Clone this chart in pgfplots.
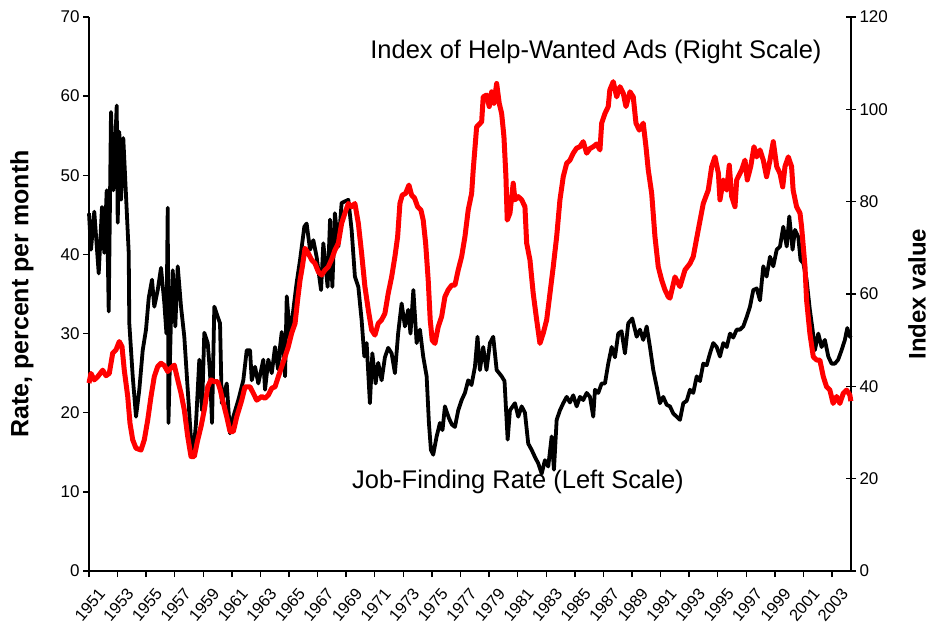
\documentclass[border=0pt]{standalone}
\usepackage{pgfplots}
\pgfplotsset{compat=1.18}
\usepackage{fontspec}
\setmainfont{Liberation Sans}
\begin{document}
\begin{tikzpicture}
\useasboundingbox (-89pt,-53pt) rectangle (840pt,571pt);
\begin{axis}[
  at={(0,0)}, anchor=south west,
  width=762pt, height=554pt, scale only axis,
  xmin=1951, xmax=2004.33, ymin=0, ymax=70,
  axis x line*=bottom, axis y line*=left,
  axis line style={line width=1.8pt, -},
  xtick={1951,1953,...,2003},
  ytick={0,10,...,70},
  tick align=outside,
  major tick length=6pt,
  tick style={line width=1.4pt, black},
  /pgf/number format/assume math mode=true,
  /pgf/number format/1000 sep={},
  yticklabel style={font=\fontsize{17}{17}\selectfont},
  xticklabel style={xshift=8pt, yshift=-8pt, rotate=50, anchor=north east, inner sep=1pt, font=\fontsize{16.5}{16.5}\selectfont},
  ylabel={Rate, percent per month},
  every axis y label/.style={at={([xshift=-67pt]axis description cs:0,0.5)}, rotate=90, anchor=center, font=\fontsize{25}{25}\selectfont\bfseries},
  clip=false,
]
\addplot[black, line width=3.8pt, line join=round] coordinates {
(1951.00,45.2)(1951.14,40.6)(1951.37,45.4)(1951.68,37.6)(1951.91,46.0)(1952.07,40.2)
(1952.24,48.1)(1952.38,32.8)(1952.54,58.0)(1952.70,48.1)(1952.94,58.8)(1953.01,44.0)
(1953.12,55.5)(1953.24,46.9)(1953.40,54.7)(1953.78,40.2)(1953.82,31.3)(1954.06,24.6)
(1954.29,19.5)(1954.52,22.9)(1954.76,27.9)(1954.99,30.5)(1955.18,34.5)(1955.41,36.8)
(1955.57,33.4)(1955.81,35.5)(1956.04,38.3)(1956.27,33.9)(1956.42,30.0)(1956.51,45.9)
(1956.56,18.7)(1956.74,32.1)(1956.86,38.0)(1957.04,30.9)(1957.21,38.5)(1957.44,33.4)
(1957.67,29.6)(1957.91,22.9)(1958.14,16.6)(1958.30,14.9)(1958.49,18.7)(1958.72,26.7)
(1958.91,20.3)(1959.07,30.1)(1959.31,28.8)(1959.47,25.0)(1959.61,18.7)(1959.77,33.4)
(1960.01,32.1)(1960.17,31.3)(1960.29,21.2)(1960.64,23.7)(1960.87,17.4)(1961.10,19.5)
(1961.45,21.6)(1961.80,24.1)(1962.04,27.9)(1962.27,27.9)(1962.39,24.1)(1962.62,25.8)
(1962.85,23.7)(1963.20,26.7)(1963.32,22.9)(1963.55,26.7)(1963.79,25.0)(1964.02,28.3)
(1964.23,25.5)(1964.37,28.3)(1964.49,30.2)(1964.72,24.6)(1964.84,34.7)(1965.07,29.6)
(1965.30,33.0)(1965.53,36.4)(1965.77,39.3)(1966.07,43.5)(1966.23,43.9)(1966.47,40.6)
(1966.70,41.8)(1966.93,39.7)(1967.24,35.5)(1967.40,41.4)(1967.70,35.9)(1967.87,44.4)
(1968.03,35.9)(1968.21,45.2)(1968.45,41.0)(1968.68,46.5)(1968.91,46.7)(1969.15,46.9)
(1969.38,43.1)(1969.61,37.2)(1969.85,35.9)(1970.08,31.7)(1970.27,27.1)(1970.43,28.8)
(1970.66,21.2)(1970.83,27.5)(1971.06,23.7)(1971.24,26.3)(1971.48,24.1)(1971.71,27.0)
(1971.94,28.2)(1972.18,27.5)(1972.41,25.0)(1972.64,30.1)(1972.88,33.8)(1973.11,30.9)
(1973.34,33.0)(1973.50,30.0)(1973.70,35.5)(1973.93,28.8)(1974.16,30.5)(1974.39,27.1)
(1974.63,24.6)(1974.79,18.7)(1974.93,15.3)(1975.09,14.7)(1975.33,17.0)(1975.56,18.7)
(1975.74,17.8)(1975.91,20.8)(1976.19,19.3)(1976.40,18.5)(1976.61,18.2)(1976.84,20.3)
(1977.08,21.6)(1977.31,22.5)(1977.54,24.1)(1977.77,23.5)(1978.01,25.8)(1978.19,29.6)
(1978.36,25.4)(1978.59,28.3)(1978.82,25.4)(1979.06,28.8)(1979.29,29.6)(1979.53,25.4)
(1979.88,24.6)(1980.08,24.0)(1980.30,16.6)(1980.46,20.3)(1980.81,21.2)(1981.04,19.5)
(1981.28,20.8)(1981.51,20.0)(1981.74,16.1)(1981.98,15.3)(1982.21,14.4)(1982.44,13.6)
(1982.68,12.3)(1982.91,14.0)(1983.14,13.2)(1983.38,17.0)(1983.54,12.8)(1983.73,19.1)
(1983.96,20.3)(1984.19,21.2)(1984.43,22.0)(1984.66,21.3)(1984.89,22.2)(1985.13,20.8)
(1985.36,22.0)(1985.59,21.6)(1985.83,22.5)(1986.06,22.0)(1986.29,19.5)(1986.41,22.9)
(1986.64,22.5)(1986.88,23.7)(1987.11,23.7)(1987.34,26.2)(1987.58,28.3)(1987.81,27.0)
(1988.04,30.0)(1988.27,30.3)(1988.51,27.5)(1988.74,31.3)(1989.02,31.9)(1989.33,29.6)
(1989.56,30.5)(1989.79,29.2)(1990.03,30.9)(1990.26,28.3)(1990.49,25.4)(1990.73,23.3)
(1990.96,21.2)(1991.19,22.0)(1991.43,21.0)(1991.66,20.8)(1991.89,19.9)(1992.13,19.5)
(1992.36,19.1)(1992.59,21.2)(1992.83,21.5)(1993.06,22.9)(1993.29,22.5)(1993.53,24.6)
(1993.76,24.0)(1993.99,26.2)(1994.23,26.0)(1994.46,27.5)(1994.69,28.8)(1994.93,28.3)
(1995.16,27.1)(1995.39,28.8)(1995.63,28.3)(1995.86,30.0)(1996.09,29.5)(1996.33,30.5)
(1996.56,30.5)(1996.79,30.9)(1997.03,32.1)(1997.26,33.4)(1997.49,35.5)(1997.73,35.7)
(1997.96,34.2)(1998.19,38.5)(1998.42,37.2)(1998.66,39.7)(1998.89,38.5)(1999.13,40.6)
(1999.36,41.0)(1999.59,43.5)(1999.83,41.0)(2000.01,44.8)(2000.24,40.6)(2000.41,43.1)
(2000.64,42.2)(2000.80,39.3)(2000.99,38.9)(2001.22,36.8)(2001.45,33.0)(2001.64,30.5)
(2001.80,27.9)(2002.04,30.0)(2002.27,28.3)(2002.50,29.2)(2002.74,27.1)(2002.97,26.2)
(2003.20,26.2)(2003.43,26.7)(2003.67,27.9)(2003.90,29.2)(2004.07,30.7)(2004.25,29.6)
(2004.32,29.8)
};
\node[font=\fontsize{25.5}{25.5}\selectfont, anchor=center] at (axis cs:1986.48,65.6) {Index of Help-Wanted Ads (Right Scale)};
\node[font=\fontsize{25.5}{25.5}\selectfont, anchor=center] at (axis cs:1981.02,11.25) {Job-Finding Rate (Left Scale)};
\end{axis}
\begin{axis}[
  at={(0,0)}, anchor=south west,
  width=762pt, height=554pt, scale only axis,
  xmin=1951, xmax=2004.33, ymin=0, ymax=120,
  axis x line=none, axis y line*=right,
  axis line style={line width=1.8pt, -},
  ytick={0,20,...,120},
  tick align=center,
  major tick length=10pt,
  tick style={line width=1.4pt, black},
  /pgf/number format/assume math mode=true,
  yticklabel style={font=\fontsize{17}{17}\selectfont},
  ylabel={Index value},
  every axis y label/.style={at={([xshift=66pt]axis description cs:1,0.5)}, rotate=90, anchor=center, font=\fontsize{24}{24}\selectfont\bfseries},
  clip=false,
]
\addplot[red, line width=5pt, line join=round] coordinates {
(1951.00,40.7)(1951.14,42.8)(1951.37,41.4)(1951.61,42.1)(1951.96,43.5)(1952.19,42.3)
(1952.42,42.8)(1952.66,47.2)(1952.89,47.9)(1953.12,49.7)(1953.31,48.6)(1953.47,43.5)
(1953.71,37.8)(1953.87,32.0)(1954.06,28.4)(1954.29,26.6)(1954.64,26.2)(1954.87,28.4)
(1955.11,32.7)(1955.34,37.8)(1955.57,42.1)(1955.81,44.3)(1956.04,45.0)(1956.27,44.5)
(1956.51,43.2)(1956.74,44.0)(1956.97,44.6)(1957.21,41.4)(1957.44,38.5)(1957.67,34.9)
(1957.91,29.1)(1958.14,24.8)(1958.37,24.8)(1958.61,28.4)(1958.84,31.3)(1959.07,34.9)
(1959.31,39.9)(1959.54,41.4)(1959.77,41.0)(1960.01,41.0)(1960.19,39.2)(1960.29,37.8)
(1960.64,33.4)(1960.87,30.2)(1961.10,30.2)(1961.34,33.4)(1961.69,37.0)(1961.92,39.9)
(1962.27,39.9)(1962.50,38.5)(1962.74,37.0)(1963.09,37.8)(1963.32,37.4)(1963.55,38.1)
(1963.79,39.6)(1964.02,39.9)(1964.25,42.1)(1964.49,44.3)(1964.72,46.4)(1964.95,48.6)
(1965.18,51.5)(1965.42,53.6)(1965.60,58.7)(1965.77,63.0)(1965.93,65.9)(1966.12,69.9)
(1966.35,68.8)(1966.58,67.4)(1966.82,66.6)(1967.05,64.8)(1967.28,64.1)(1967.52,65.2)
(1967.75,65.9)(1967.98,67.5)(1968.21,69.5)(1968.45,71.0)(1968.68,75.3)(1968.91,77.5)
(1969.15,79.6)(1969.38,78.9)(1969.61,79.6)(1969.85,75.3)(1970.08,68.8)(1970.31,61.6)
(1970.55,56.5)(1970.78,52.2)(1971.01,51.1)(1971.24,53.6)(1971.48,54.4)(1971.71,55.8)
(1971.94,60.1)(1972.18,63.7)(1972.41,68.1)(1972.60,72.4)(1972.76,79.6)(1972.92,81.4)
(1973.16,81.8)(1973.39,83.6)(1973.58,81.4)(1973.78,80.8)(1974.00,78.9)(1974.23,78.2)
(1974.39,76.0)(1974.56,71.0)(1974.74,63.0)(1974.88,54.4)(1975.02,50.0)(1975.21,49.3)
(1975.44,52.9)(1975.68,55.1)(1975.91,59.4)(1976.14,60.9)(1976.38,61.9)(1976.61,61.9)
(1976.84,65.2)(1977.08,68.1)(1977.31,72.4)(1977.54,78.2)(1977.78,81.8)(1977.89,86.9)
(1978.13,96.2)(1978.48,97.3)(1978.59,102.7)(1978.83,103.1)(1979.01,100.6)(1979.18,103.8)
(1979.34,101.3)(1979.53,105.6)(1979.71,101.3)(1979.88,99.1)(1980.04,94.1)(1980.18,85.4)
(1980.27,76.0)(1980.46,77.5)(1980.69,84.0)(1980.81,80.4)(1981.04,81.1)(1981.28,80.4)
(1981.51,78.9)(1981.63,71.0)(1981.86,67.4)(1982.09,60.1)(1982.33,54.4)(1982.56,49.3)
(1982.79,51.5)(1983.03,54.4)(1983.26,60.1)(1983.49,65.9)(1983.73,72.4)(1983.96,80.4)
(1984.19,85.4)(1984.43,88.3)(1984.66,89.0)(1984.89,90.5)(1985.13,91.6)(1985.36,91.9)
(1985.59,93.0)(1985.83,90.5)(1986.06,91.5)(1986.29,91.9)(1986.53,92.5)(1986.76,91.2)
(1986.88,97.0)(1987.11,99.1)(1987.34,100.6)(1987.45,104.2)(1987.69,106.0)(1987.93,102.7)
(1988.16,104.9)(1988.39,103.5)(1988.58,100.6)(1988.86,103.8)(1989.09,102.7)(1989.28,97.0)
(1989.51,95.5)(1989.79,97.0)(1989.98,91.9)(1990.14,86.9)(1990.38,81.8)(1990.61,72.4)
(1990.84,65.9)(1991.08,63.0)(1991.31,60.9)(1991.54,59.4)(1991.66,59.1)(1992.01,63.7)
(1992.36,61.6)(1992.71,65.2)(1993.06,66.6)(1993.29,68.1)(1993.64,73.9)(1993.99,79.6)
(1994.34,82.5)(1994.58,87.6)(1994.81,89.7)(1995.05,86.1)(1995.16,80.4)(1995.39,84.7)
(1995.63,82.5)(1995.81,87.9)(1995.98,81.1)(1996.21,78.9)(1996.33,84.7)(1996.68,86.9)
(1996.91,89.0)(1997.07,84.7)(1997.31,87.6)(1997.54,91.9)(1997.73,89.7)(1997.96,91.2)
(1998.19,89.0)(1998.42,85.4)(1998.66,89.0)(1998.89,93.0)(1999.13,87.6)(1999.36,86.1)
(1999.55,83.2)(1999.71,87.6)(1999.94,89.7)(2000.17,87.6)(2000.28,82.5)(2000.52,78.9)
(2000.76,77.5)(2000.87,74.6)(2001.11,65.9)(2001.22,58.7)(2001.45,51.5)(2001.69,46.4)
(2001.92,45.7)(2002.15,45.7)(2002.39,42.1)(2002.62,39.9)(2002.85,39.2)(2003.08,36.3)
(2003.32,37.8)(2003.55,36.3)(2003.79,38.5)(2004.02,39.2)(2004.25,38.1)(2004.32,36.8)
};
\end{axis}
\end{tikzpicture}
\end{document}
